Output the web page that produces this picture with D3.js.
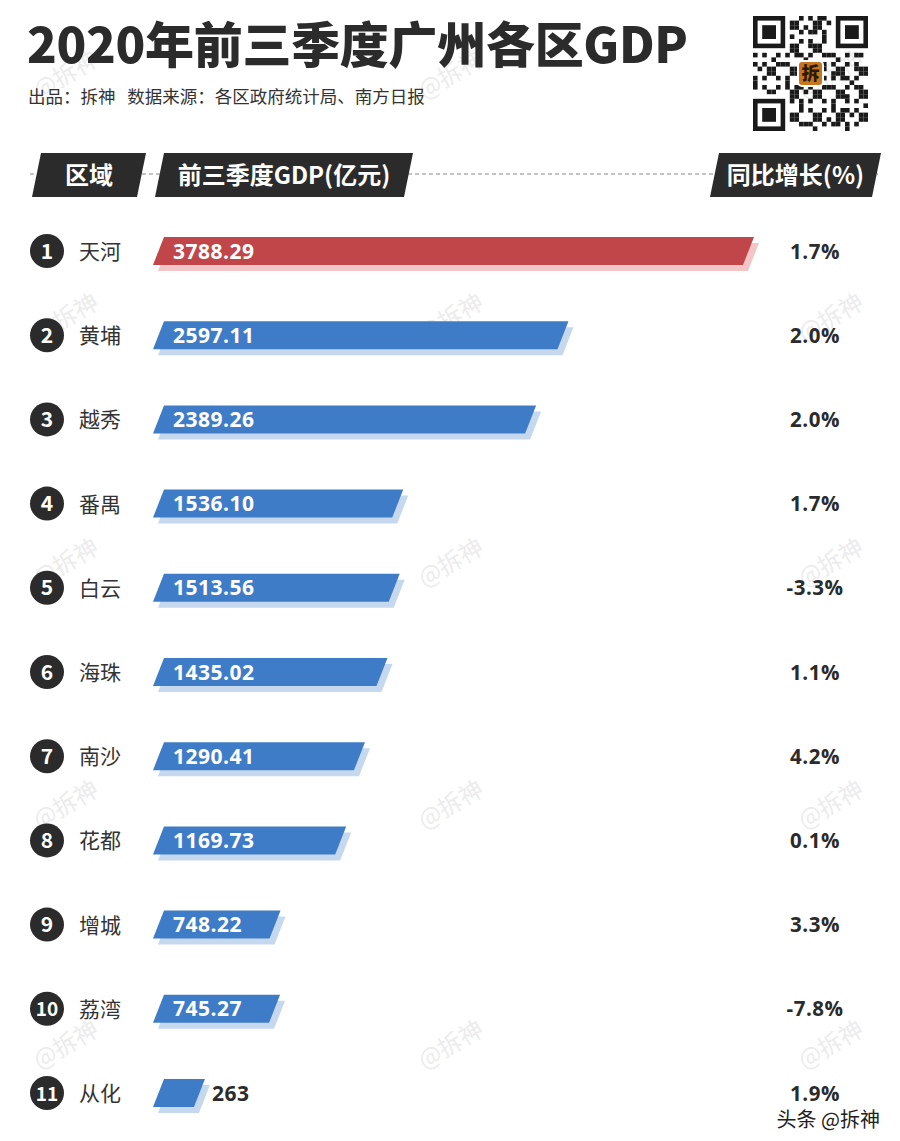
<!DOCTYPE html>
<html>
<head>
<meta charset="utf-8">
<script src="https://cdn.jsdelivr.net/npm/d3@7"></script>
<style>
  body { margin: 0; background: #fff; }
  svg { display: block; font-family: "Noto Sans CJK SC", "Noto Sans", sans-serif; }
</style>
</head>
<body>
<div class="visHolder"></div>
<script>
// data
var districts = ["天河", "黄埔", "越秀", "番禺", "白云", "海珠", "南沙", "花都", "增城", "荔湾", "从化"];
var gdpValues = [3788.29, 2597.11, 2389.26, 1536.10, 1513.56, 1435.02, 1290.41, 1169.73, 748.22, 745.27, 263];
var gdpLabels = ["3788.29", "2597.11", "2389.26", "1536.10", "1513.56", "1435.02", "1290.41", "1169.73", "748.22", "745.27", "263"];
var growthLabels = ["1.7%", "2.0%", "2.0%", "1.7%", "-3.3%", "1.1%", "4.2%", "0.1%", "3.3%", "-7.8%", "1.9%"];

var width = 900, height = 1141;

var svg = d3.select(".visHolder")
    .append("svg")
    .attr("width", width)
    .attr("height", height);

// watermarks
var wmX = [70, 455, 835];
var wmY = [82, 325, 570, 812, 1052];
wmY.forEach(function(y) {
    wmX.forEach(function(x) {
        svg.append("text")
            .attr("transform", "translate(" + x + "," + y + ") rotate(-30)")
            .attr("text-anchor", "middle")
            .style("font-size", "24px")
            .style("fill", "#ececec")
            .text("@拆神");
    });
});

// title
svg.append("text")
    .attr("x", 27).attr("y", 63)
    .style("font-size", "49px")
    .style("font-weight", 900)
    .style("fill", "#2b2b2b")
    .attr("textLength", 661)
    .text("2020年前三季度广州各区GDP");

svg.append("text")
    .attr("x", 28).attr("y", 103)
    .style("font-size", "17.5px")
    .style("fill", "#333")
    .attr("xml:space", "preserve")
    .text("出品：拆神   数据来源：各区政府统计局、南方日报");

// qr-like badge
var qr = svg.append("g").attr("transform", "translate(753,16)");
var n = 25, m = 4.6;
for (var i = 0; i < n; i++) {
    for (var j = 0; j < n; j++) {
        var inFinder = (i < 8 && j < 8) || (i < 8 && j >= n - 8) || (i >= n - 8 && j < 8);
        if (inFinder) continue;
        if (((i * 7 + j * 13 + i * j * 3) % 5) < 2 || ((i + j * 3) % 7 === 0)) {
            qr.append("rect").attr("x", j * m).attr("y", i * m)
                .attr("width", m).attr("height", m).style("fill", "#1a1a1a");
        }
    }
}
[[0, 0], [0, n - 7], [n - 7, 0]].forEach(function(p) {
    var fx = p[1] * m, fy = p[0] * m;
    qr.append("rect").attr("x", fx).attr("y", fy).attr("width", 7 * m).attr("height", 7 * m).style("fill", "#1a1a1a");
    qr.append("rect").attr("x", fx + m).attr("y", fy + m).attr("width", 5 * m).attr("height", 5 * m).style("fill", "#fff");
    qr.append("rect").attr("x", fx + 2 * m).attr("y", fy + 2 * m).attr("width", 3 * m).attr("height", 3 * m).style("fill", "#1a1a1a");
});
qr.append("rect").attr("x", 45).attr("y", 45).attr("width", 25).attr("height", 25)
    .attr("rx", 4).style("fill", "#c7761f").style("stroke", "#fff").style("stroke-width", 2);
qr.append("text").attr("x", 57.5).attr("y", 64).attr("text-anchor", "middle")
    .style("font-size", "18px").style("font-weight", 900).style("fill", "#2a1a0a").text("拆");

// header
var slant = 9;
function para(x0, y0, w, h, s) {
    // bottom-left at x0, top edge shifted right by s
    return [[x0 + s, y0], [x0 + s + w, y0], [x0 + w, y0 + h], [x0, y0 + h]];
}
var line = d3.line();

svg.append("line")
    .attr("x1", 30).attr("x2", 878)
    .attr("y1", 174).attr("y2", 174)
    .style("stroke", "#888").style("stroke-width", 1)
    .style("stroke-dasharray", "4,3");

var headers = [
    { text: "区域", x0: 32, w: 105 },
    { text: "前三季度GDP(亿元)", x0: 155, w: 249 },
    { text: "同比增长(%)", x0: 710, w: 162 }
];
headers.forEach(function(h) {
    svg.append("path")
        .attr("d", line(para(h.x0, 153, h.w, 44, slant)) + "Z")
        .style("fill", "#2b2b2b");
    svg.append("text")
        .attr("x", h.x0 + slant / 2 + h.w / 2).attr("y", 184)
        .attr("text-anchor", "middle")
        .style("font-size", "24px").style("font-weight", 700)
        .style("fill", "#fff")
        .text(h.text);
});

// scales
var y = d3.scalePoint()
    .domain(districts)
    .range([251, 1093]);

var x = d3.scaleLinear()
    .domain([0, d3.max(gdpValues)])
    .range([0, 590]);

var barLeft = 153, barH = 28, barSlant = 11;

var rows = svg.selectAll(".row")
    .data(districts)
    .enter()
    .append("g")
    .attr("class", "row")
    .attr("transform", function(d) { return "translate(0," + y(d) + ")"; });

rows.append("circle")
    .attr("cx", 47).attr("cy", 0).attr("r", 17)
    .style("fill", "#2b2b2b");

rows.append("text")
    .attr("x", 47).attr("y", 7.5)
    .attr("text-anchor", "middle")
    .style("font-size", function(d, i) { return i >= 9 ? "19px" : "21px"; })
    .style("font-weight", 700)
    .style("fill", "#fff")
    .text(function(d, i) { return i + 1; });

rows.append("text")
    .attr("x", 79).attr("y", 8)
    .style("font-size", "21px")
    .style("fill", "#333")
    .text(function(d) { return d; });

// shadow
rows.append("path")
    .attr("d", function(d, i) {
        return line(para(barLeft + 5, -barH / 2 + 6, x(gdpValues[i]), barH, barSlant)) + "Z";
    })
    .style("fill", function(d, i) { return i === 0 ? "#f2c6c7" : "#c6d8ee"; });

rows.append("path")
    .attr("d", function(d, i) {
        return line(para(barLeft, -barH / 2, x(gdpValues[i]), barH, barSlant)) + "Z";
    })
    .style("fill", function(d, i) { return i === 0 ? "#c1464a" : "#3f7cc8"; });

rows.append("text")
    .attr("x", function(d, i) {
        var end = barLeft + barSlant + x(gdpValues[i]);
        return x(gdpValues[i]) < 100 ? end + 7 : 173;
    })
    .attr("y", 7.5)
    .style("font-family", "'Open Sans', 'Noto Sans', sans-serif")
    .style("font-size", "21px")
    .style("font-weight", 700)
    .style("letter-spacing", "0.5px")
    .style("fill", function(d, i) { return x(gdpValues[i]) < 100 ? "#2b2b2b" : "#fff"; })
    .text(function(d, i) { return gdpLabels[i]; });

rows.append("text")
    .attr("x", 815).attr("y", 7.5)
    .attr("text-anchor", "middle")
    .style("font-family", "'Open Sans', 'Noto Sans', sans-serif")
    .style("font-size", "20.5px")
    .style("font-weight", 700)
    .style("letter-spacing", "0.5px")
    .style("fill", "#2b2b2b")
    .text(function(d, i) { return growthLabels[i]; });

// footer mark
svg.append("text")
    .attr("x", 880).attr("y", 1127)
    .attr("text-anchor", "end")
    .style("font-size", "20px")
    .style("fill", "#222")
    .style("stroke", "#fff").style("stroke-width", 3)
    .style("paint-order", "stroke")
    .text("头条 @拆神");
</script>
</body>
</html>
